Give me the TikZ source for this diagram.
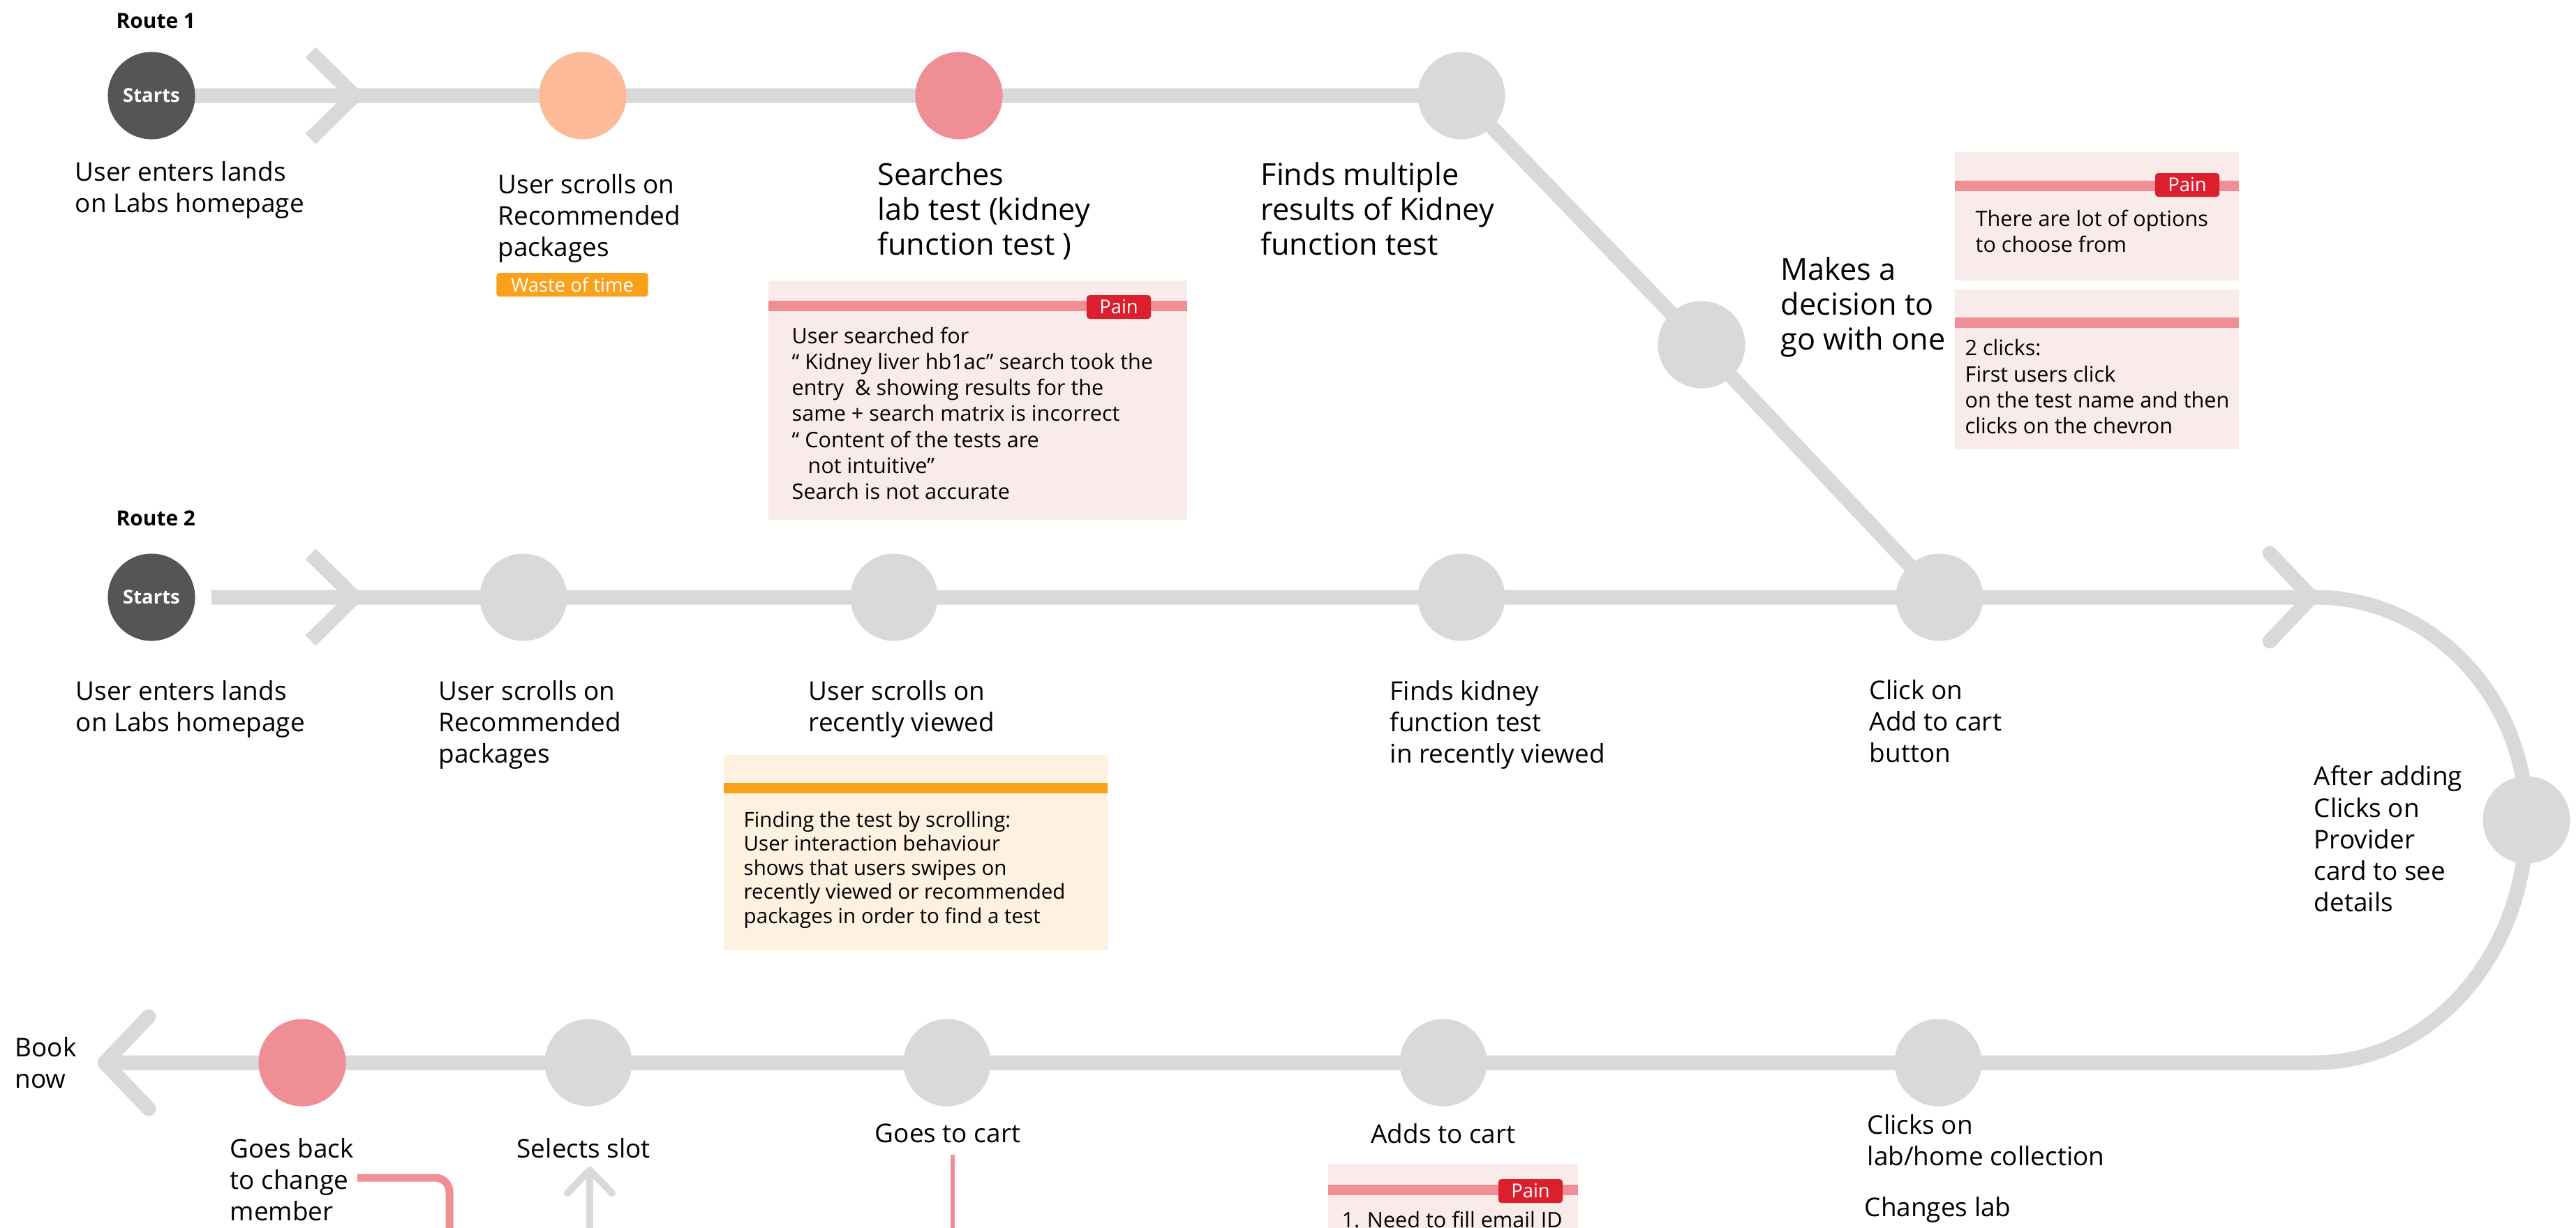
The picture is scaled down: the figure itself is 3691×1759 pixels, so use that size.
\documentclass[tikz,border=0pt]{standalone}
\usepackage{fontspec}
\setmainfont{Open Sans}
\usetikzlibrary{backgrounds}

\definecolor{trackgray}{HTML}{D9D9D9}
\definecolor{startgray}{HTML}{555555}
\definecolor{peach}{HTML}{FDBA98}
\definecolor{rose}{HTML}{EF8E94}
\definecolor{painbg}{HTML}{FAEBEB}
\definecolor{painred}{HTML}{DC1F2D}
\definecolor{amber}{HTML}{F9A11B}
\definecolor{amberbg}{HTML}{FEF1DF}

\tikzset{
  track/.style={draw=trackgray, line width=0.21cm},
  stopdot/.style={circle, fill=#1, minimum size=1.25cm, inner sep=0pt},
  stopdot/.default=trackgray,
  startdot/.style={stopdot=startgray, text=white, font=\bfseries\fontsize{7.8}{8}\selectfont},
  lbl/.style={anchor=north west, inner sep=0pt, align=left, font=\fontsize{10.5}{12.8}\selectfont},
  biglbl/.style={lbl, font=\fontsize{12.3}{14.2}\selectfont},
  notetext/.style={anchor=north west, inner sep=0pt, align=left, font=\fontsize{8.7}{10.6}\selectfont},
  badge/.style={fill=#1, text=white, rounded corners=1.2pt, inner sep=0pt, minimum height=0.34cm, font=\fontsize{7.8}{8}\selectfont},
  routelbl/.style={anchor=north west, inner sep=0pt, font=\bfseries\fontsize{8.5}{10}\selectfont},
}

\begin{document}
\begin{tikzpicture}[x=0.01cm, y=-0.01cm]
\path[use as bounding box, clip] (0,0) rectangle (3691,1759);

% stops
\node[routelbl] (route1) at (166,18) {Route 1};
\node[startdot] (s1) at (217,137) {Starts};
\node[stopdot=peach] (o1) at (835,137) {};
\node[stopdot=rose] (p1) at (1374,137) {};
\node[stopdot] (g1) at (2094,137) {};
\node[stopdot] (d1) at (2438,494) {};

\node[routelbl] (route2) at (166,731) {Route 2};
\node[startdot] (s2) at (217,856) {Starts};
\node[stopdot] (a2) at (750,856) {};
\node[stopdot] (b2) at (1281,856) {};
\node[stopdot] (c2) at (2094,856) {};
\node[stopdot] (k2) at (2779,856) {};
\node[stopdot] (v2) at (3620,1175) {};

\node[stopdot=rose] (q3) at (433,1523) {};
\node[stopdot] (w3) at (843,1523) {};
\node[stopdot] (e3) at (1357,1523) {};
\node[stopdot] (f3) at (2068,1523) {};
\node[stopdot] (h3) at (2777,1523) {};

\coordinate (in2) at (303,856);
\coordinate (tip2) at (3317,856);
\coordinate (back3) at (3317,1523);
\coordinate (book) at (150,1523);

% tracks
\begin{scope}[on background layer]
\draw[track] (s1.center) -- (o1.center) -- (p1.center) -- (g1.center) -- (d1.center) -- (k2.center);
\draw[track] (in2) -- (a2.center) -- (b2.center) -- (c2.center) -- (k2.center) -- (tip2)
  .. controls (3484,856) and (3620,999) .. (v2.center)
  .. controls (3620,1367) and (3484,1523) .. (back3)
  -- (h3.center) -- (f3.center) -- (e3.center) -- (w3.center) -- (q3.center) -- (book);
\end{scope}
\draw[track] (445,75) -- (508,137) -- (445,199);
\draw[track] (445,794) -- (508,856) -- (445,918);
\draw[track, line cap=round, line join=round] (3252,793) -- (3312,856) -- (3252,919);
\draw[track, line cap=round, line join=round] (213,1457) -- (150,1523) -- (213,1589);

% route 1 labels
\node[lbl] (l11) at (107,231) {User enters lands\\on Labs homepage};
\node[lbl] (l12) at (713,249) {User scrolls on\\Recommended\\packages};
\node[badge=amber, minimum width=2.17cm] (waste) at (820,408) {Waste of time};
\node[biglbl] (l13) at (1257,232) {Searches\\lab test (kidney\\function test )};
\node[biglbl] (l14) at (1806,232) {Finds multiple\\results of Kidney\\function test};
\node[biglbl] (l15) at (2551,368) {Makes a\\decision to\\go with one};

\fill[painbg] (1101,402) rectangle (1701,745);
\fill[rose] (1101,431) rectangle (1701,446);
\node[badge=painred, minimum width=0.92cm] (pain1) at (1603,440) {Pain};
\node[notetext] (n1) at (1134,468) {User searched for\\“ Kidney liver hb1ac” search took the\\entry\ \ \& showing results for the\\same + search matrix is incorrect\\“ Content of the tests are\\\hspace{0.23cm}not intuitive”\\Search is not accurate};

\fill[painbg] (2801,218) rectangle (3208,402);
\fill[rose] (2801,259) rectangle (3208,274);
\node[badge=painred, minimum width=0.92cm] (pain2) at (3134,265) {Pain};
\node[notetext] (n2) at (2830,300) {There are lot of options\\to choose from};

\fill[painbg] (2801,415) rectangle (3208,644);
\fill[rose] (2801,455) rectangle (3208,470);
\node[notetext] (n3) at (2815,486) {2 clicks:\\First users click\\on the test name and then\\clicks on the chevron};

% route 2 labels
\node[lbl] (l21) at (108,975) {User enters lands\\on Labs homepage};
\node[lbl] (l22) at (628,975) {User scrolls on\\Recommended\\packages};
\node[lbl] (l23) at (1158,975) {User scrolls on\\recently viewed};
\node[lbl] (l24) at (1991,975) {Finds kidney\\function test\\in recently viewed};
\node[lbl] (l25) at (2678,974) {Click on\\Add to cart\\button};
\node[lbl] (l26) at (3315,1097) {After adding\\Clicks on\\Provider\\card to see\\details};

\fill[amberbg] (1037,1082) rectangle (1587,1362);
\fill[amber] (1037,1122) rectangle (1587,1137);
\node[notetext, font=\fontsize{8.4}{9.8}\selectfont] (n4) at (1065,1162) {Finding the test by scrolling:\\User interaction behaviour\\shows that users swipes on\\recently viewed or recommended\\packages in order to find a test};

% way back
\node[lbl] (booklbl) at (21,1486) {Book\\now};
\node[lbl] (goesback) at (329,1631) {Goes back\\to change\\member};
\node[lbl] (slot) at (740,1631) {Selects slot};
\node[lbl, anchor=north] (tocart) at (1358,1610) {Goes to cart};
\node[lbl, anchor=north] (adds) at (2068,1610) {Adds to cart};
\node[lbl] (labhome) at (2675,1597) {Clicks on\\lab/home collection};
\node[lbl] (changelab) at (2671,1715) {Changes lab};

\fill[painbg] (1903,1668) rectangle (2261,1770);
\fill[rose] (1903,1698) rectangle (2261,1713);
\node[badge=painred, minimum width=0.92cm] (pain3) at (2193,1707) {Pain};
\node[notetext] (n5) at (1922,1735) {1. Need to fill email ID};

\coordinate (memberout) at (512,1688);
\coordinate (memberdown) at (644,1770);
\draw[rose, line width=0.11cm, rounded corners=0.2cm] (memberout) -- (memberdown |- memberout) -- (memberdown);
\coordinate (slotup) at (845,1677);
\coordinate (slotfoot) at (845,1770);
\draw[trackgray, line width=0.1cm, line cap=round, line join=round] (slotfoot) -- (slotup);
\draw[trackgray, line width=0.1cm, line cap=round, line join=round] (813,1710) -- (slotup) -- (877,1710);
\coordinate (carttop) at (1365,1655);
\coordinate (cartfoot) at (1365,1770);
\draw[rose, line width=0.06cm] (carttop) -- (cartfoot);
\end{tikzpicture}
\end{document}
